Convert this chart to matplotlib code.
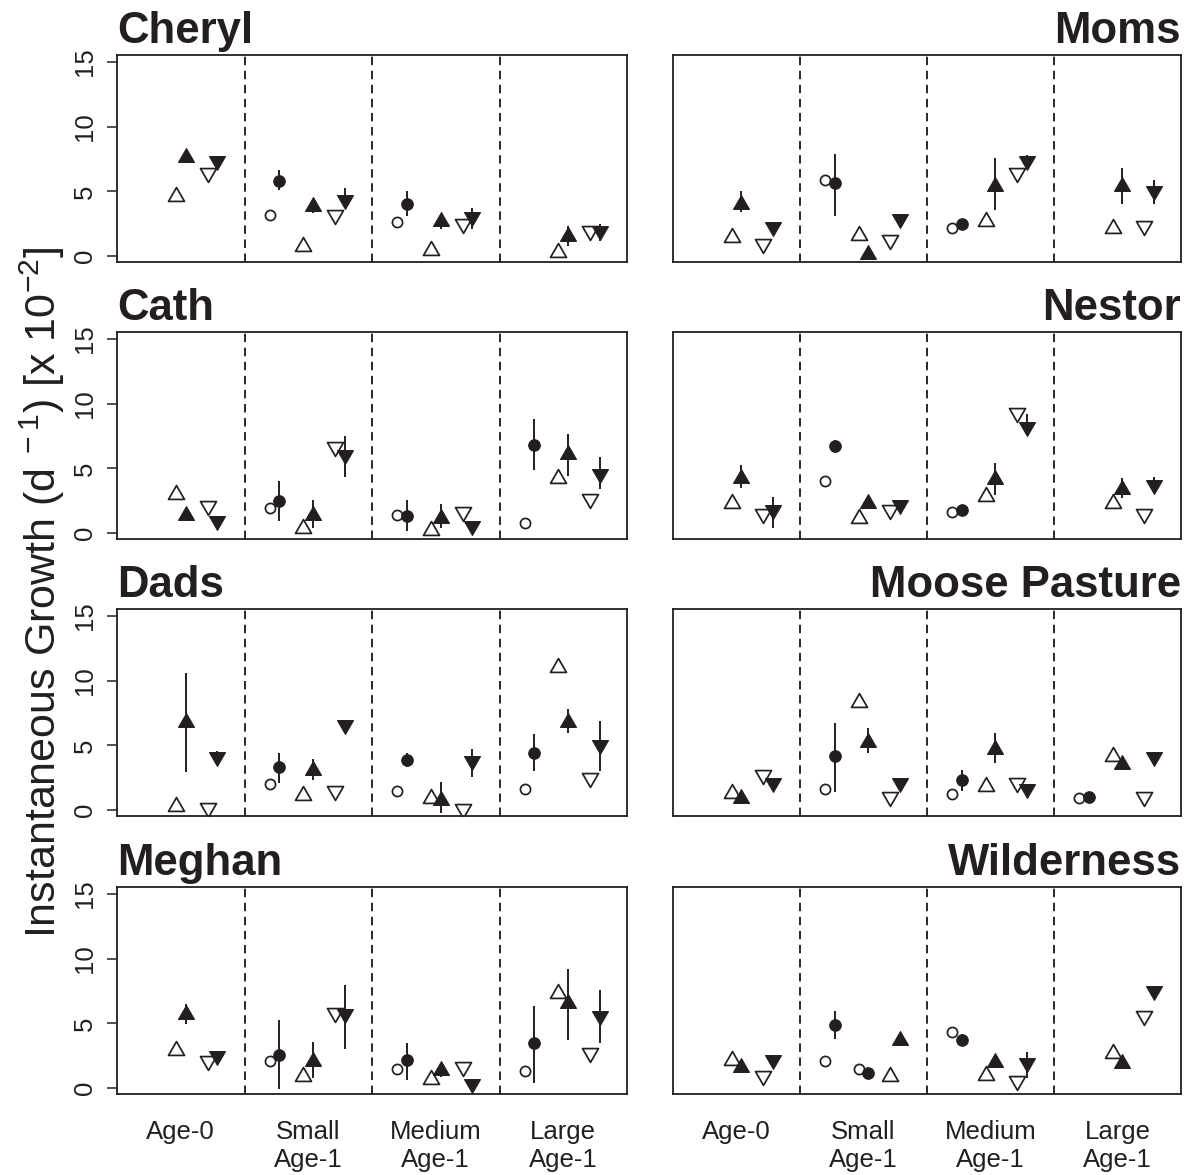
import numpy as np
import matplotlib
matplotlib.use("Agg")
import matplotlib.pyplot as plt
from matplotlib.path import Path

plt.rcParams['font.family'] = ['Liberation Sans', 'DejaVu Sans']
plt.rcParams['mathtext.fontset'] = 'custom'
plt.rcParams['mathtext.rm'] = 'Liberation Sans'
plt.rcParams['mathtext.it'] = 'Liberation Sans:italic'
plt.rcParams['mathtext.bf'] = 'Liberation Sans:bold'

nan = np.nan

sites = ["Cheryl", "Moms", "Cath", "Nestor", "Dads", "Moose Pasture", "Meghan", "Wilderness"]
groups = ["Age-0", "Small\nAge-1", "Medium\nAge-1", "Large\nAge-1"]
y_ticks = [0, 5, 10, 15]
y_label = r"Instantaneous Growth (d$^{\,\,-1}$) [x 10$^{-2}$]"

# marker shape of the three symbol pairs in each group (circle, up triangle, down triangle)
default_shapes = ["o", "^", "v"]
wilderness_shapes = [["o", "^", "v"], ["o", "o", "^"], ["o", "^", "v"], ["o", "^", "v"]]

# per site: rows = groups, columns = symbol slot; open value, filled value, filled error low/high
cheryl_open = [[nan, 4.8, 6.25], [3.2, 0.9, 3.0], [2.65, 0.65, 2.35], [nan, 0.5, 1.8]]
cheryl_fill = [[nan, 7.8, 7.2], [5.8, 4.0, 4.2], [4.0, 2.85, 2.85], [nan, 1.7, 1.75]]
cheryl_lo = [[nan, nan, nan], [5.1, 3.3, 3.7], [3.1, 2.1, 2.1], [nan, 0.8, 1.15]]
cheryl_hi = [[nan, nan, nan], [6.65, 4.3, 5.3], [5.0, 3.1, 3.7], [nan, 2.3, 2.45]]

moms_open = [[nan, 1.6, 0.75], [5.9, 1.75, 1.1], [2.2, 2.85, 6.3], [nan, 2.3, 2.15]]
moms_fill = [[nan, 4.2, 2.1], [5.65, 0.35, 2.7], [2.45, 5.6, 7.2], [nan, 5.55, 4.9]]
moms_lo = [[nan, 3.4, nan], [3.1, nan, nan], [nan, 3.55, 7.0], [nan, 4.05, 4.05]]
moms_hi = [[nan, 5.0, nan], [7.9, nan, nan], [nan, 7.55, 7.8], [nan, 6.8, 5.9]]

cath_open = [[nan, 3.15, 1.95], [1.9, 0.55, 6.5], [1.4, 0.4, 1.5], [0.8, 4.4, 2.45]]
cath_fill = [[nan, 1.55, 0.75], [2.45, 1.55, 5.85], [1.3, 1.3, 0.4], [6.8, 6.25, 4.45]]
cath_lo = [[nan, nan, nan], [0.95, 0.4, 4.35], [0.15, 0.4, nan], [4.9, 4.45, 3.4]]
cath_hi = [[nan, nan, nan], [4.0, 2.55, 7.5], [2.55, 2.25, nan], [8.8, 7.65, 5.85]]

nestor_open = [[nan, 2.45, 1.3], [4.05, 1.3, 1.65], [1.65, 3.05, 9.15], [nan, 2.45, 1.35]]
nestor_fill = [[nan, 4.45, 1.65], [6.7, 2.45, 2.0], [1.75, 4.35, 8.05], [nan, 3.6, 3.6]]
nestor_lo = [[nan, 3.5, 0.4], [6.2, nan, nan], [nan, 2.95, 7.8], [nan, 2.7, 3.4]]
nestor_hi = [[nan, 5.25, 2.8], [7.2, nan, nan], [nan, 5.4, 9.2], [nan, 4.25, 4.3]]

dads_open = [[nan, 0.5, 0.0], [2.05, 1.3, 1.3], [1.5, 1.05, -0.1], [1.65, 11.25, 2.3]]
dads_fill = [[nan, 6.95, 3.95], [3.3, 3.25, 6.4], [3.9, 0.95, 3.65], [4.45, 6.95, 4.85]]
dads_lo = [[nan, 2.95, 3.7], [2.1, 2.3, nan], [3.3, -0.2, 2.55], [3.0, 5.95, 3.0]]
dads_hi = [[nan, 10.6, 4.6], [4.45, 3.95, nan], [4.45, 2.2, 4.75], [5.9, 7.85, 6.9]]

moose_open = [[nan, 1.45, 2.55], [1.6, 8.5, 0.85], [1.25, 2.0, 1.95], [0.9, 4.3, 0.85]]
moose_fill = [[nan, 1.1, 1.9], [4.2, 5.45, 1.9], [2.3, 4.85, 1.45], [1.0, 3.75, 3.95]]
moose_lo = [[nan, nan, nan], [1.4, 4.4, nan], [1.45, 3.65, nan], [nan, 3.1, nan]]
moose_hi = [[nan, nan, nan], [6.75, 6.35, nan], [3.1, 5.95, nan], [nan, 4.0, nan]]

meghan_open = [[nan, 3.1, 1.95], [2.1, 1.1, 5.65], [1.5, 0.85, 1.5], [1.35, 7.5, 2.55]]
meghan_fill = [[nan, 5.85, 2.35], [2.55, 2.25, 5.55], [2.15, 1.55, 0.15], [3.45, 6.75, 5.45]]
meghan_lo = [[nan, 4.95, nan], [-0.05, 0.75, 3.05], [0.65, 0.85, nan], [0.4, 3.75, 3.5]]
meghan_hi = [[nan, 6.5, nan], [5.3, 3.6, 7.95], [3.45, 1.9, nan], [6.35, 9.2, 7.55]]

wild_open = [[nan, 2.35, 0.75], [2.1, 1.5, 1.1], [4.35, 1.15, 0.4], [nan, 2.85, 5.45]]
wild_fill = [[nan, 1.75, 2.0], [4.85, 1.15, 3.85], [3.75, 2.2, 1.75], [nan, 2.1, 7.35]]
wild_lo = [[nan, nan, nan], [3.8, nan, nan], [3.3, nan, 0.75], [nan, nan, 7.0]]
wild_hi = [[nan, nan, nan], [5.95, nan, nan], [4.2, nan, 2.8], [nan, nan, 7.9]]

site_data = {
    "Cheryl": (cheryl_open, cheryl_fill, cheryl_lo, cheryl_hi),
    "Moms": (moms_open, moms_fill, moms_lo, moms_hi),
    "Cath": (cath_open, cath_fill, cath_lo, cath_hi),
    "Nestor": (nestor_open, nestor_fill, nestor_lo, nestor_hi),
    "Dads": (dads_open, dads_fill, dads_lo, dads_hi),
    "Moose Pasture": (moose_open, moose_fill, moose_lo, moose_hi),
    "Meghan": (meghan_open, meghan_fill, meghan_lo, meghan_hi),
    "Wilderness": (wild_open, wild_fill, wild_lo, wild_hi),
}

INK = "#231f20"
tri_up = Path([(0, 0.433), (0.5, -0.433), (-0.5, -0.433), (0, 0.433)],
              [Path.MOVETO, Path.LINETO, Path.LINETO, Path.CLOSEPOLY])
tri_dn = Path([(0, -0.433), (0.5, 0.433), (-0.5, 0.433), (0, -0.433)],
              [Path.MOVETO, Path.LINETO, Path.LINETO, Path.CLOSEPOLY])
shape_map = {"o": "o", "^": tri_up, "v": tri_dn}

W, H = 1186, 1175
fig = plt.figure(figsize=(W / 100, H / 100), dpi=100)
col_x = [117, 673]
col_w = [510, 508]
row_top = [55, 332, 609, 887]
ax_h = 207

slot_centers = [0.235, 0.5, 0.75]
d = 0.038

for idx, site in enumerate(sites):
    r, c = divmod(idx, 2)
    ax = fig.add_axes([col_x[c] / W, 1 - (row_top[r] + ax_h) / H, col_w[c] / W, ax_h / H])
    ax.set_xlim(0, 4)
    ax.set_ylim(-0.46, 15.55)
    for b in (1, 2, 3):
        ax.axvline(b, color=INK, lw=1.35, ls=(0, (4.5, 3)), zorder=1)
    o_vals, f_vals, lo_vals, hi_vals = site_data[site]
    shapes_all = wilderness_shapes if site == "Wilderness" else [default_shapes] * 4
    for g in range(4):
        for k in range(3):
            shp = shapes_all[g][k]
            m = shape_map[shp]
            xc = g + slot_centers[k]
            is_circ = shp == "o"
            ov = o_vals[g][k]
            fv = f_vals[g][k]
            lo = lo_vals[g][k]
            hi = hi_vals[g][k]
            if not np.isnan(lo):
                ax.vlines(xc + d, lo, hi, color=INK, lw=1.4, zorder=2)
            if not np.isnan(ov):
                ax.plot(xc - d, ov, marker=m, ms=7.3 if is_circ else 11.5, mfc="none",
                        mec=INK, mew=1.25, ls="none", zorder=3)
            if not np.isnan(fv):
                ax.plot(xc + d, fv, marker=m, ms=8.3 if is_circ else 11.5, mfc=INK,
                        mec=INK, mew=0.8, ls="none", zorder=3)
    for sp in ax.spines.values():
        sp.set_linewidth(1.3)
        sp.set_color(INK)
    if c == 0:
        ax.set_yticks(y_ticks)
        ax.tick_params(axis="y", direction="out", length=7.5, width=1.1, pad=7,
                       labelsize=18.5, labelrotation=90, colors=INK)
        for lab in ax.get_yticklabels():
            lab.set_va("center")
        ax.text(0, 1 + 12 / ax_h, site, transform=ax.transAxes, ha="left", va="baseline",
                fontsize=31.5, fontweight="bold", color=INK)
    else:
        ax.set_yticks([])
        ax.text(1, 1 + 12 / ax_h, site, transform=ax.transAxes, ha="right", va="baseline",
                fontsize=31.5, fontweight="bold", color=INK)
    if r == 3:
        ax.set_xticks([0.5, 1.5, 2.5, 3.5])
        ax.set_xticklabels(groups, fontsize=18.5, color=INK, linespacing=1.2)
        ax.tick_params(axis="x", length=0, pad=19)
    else:
        ax.set_xticks([])

fig.text(42 / W, 1 - 592 / H, y_label, rotation=90, fontsize=31, ha="center", va="center", color=INK)

fig.savefig("out.png", dpi=100)
